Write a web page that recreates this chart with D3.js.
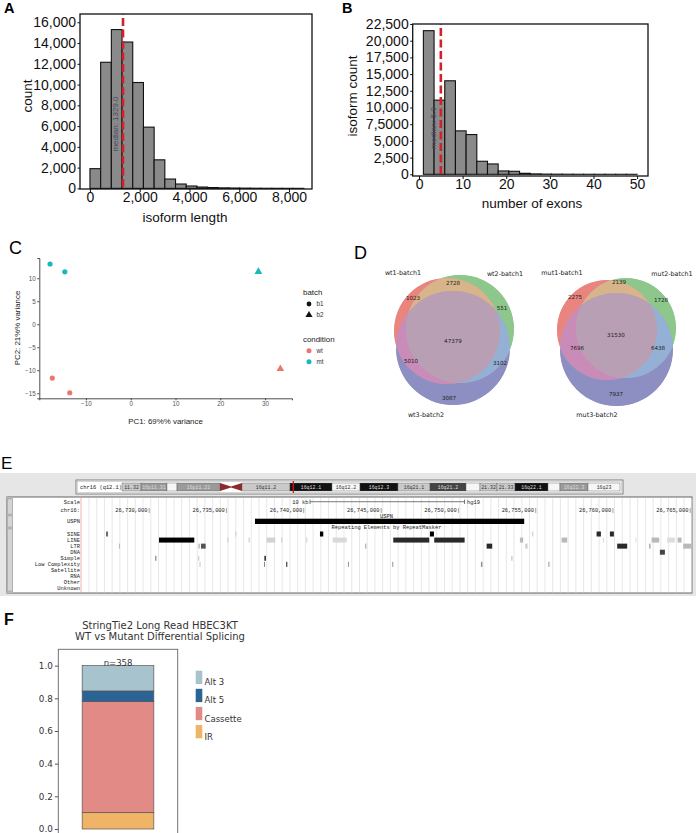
<!DOCTYPE html>
<html><head><meta charset="utf-8">
<script src="https://cdn.jsdelivr.net/npm/d3@7"></script>
<style>body{margin:0;background:#fff}svg{display:block}</style>
</head><body>
<svg id="fig" width="696" height="833"></svg>
<script>
// ---------------- DATA ----------------
// Panel A: isoform length histogram
const lengthBinStarts = [0,430,860,1290,1720,2150,2580,3010,3440,3870,4300,4730,5160,5590,6020,6450,6880,7310,7740,8170];
const lengthBinWidth = 430;
const lengthCounts = [1900,12150,15300,14100,10200,5900,2750,900,420,230,130,80,50,35,25,15,10,8,5,3];
const lengthTicks = [0,2000,4000,6000,8000];
const lengthCountTicks = [0,2000,4000,6000,8000,10000,12000,14000,16000];
const lengthMedian = 1329.0;

// Panel B: exon number histogram
const exonBinStarts = [1,3.45,5.9,8.35,10.8,13.25,15.7,18.15,20.6,23.05,25.5,27.95,30.4,32.85,35.3,37.75,40.2,42.65,45.1,47.55];
const exonBinWidth = 2.45;
const exonCounts = [21500,11100,14000,6500,5950,1950,1550,500,450,150,60,30,20,12,8,5,3,2,2,1];
const exonTicks = [0,10,20,30,40,50];
const exonCountTicks = [0,2500,5000,7500,10000,12500,15000,17500,20000,22500];
const exonCountTickLabels = ["0","2,500","5,000","7,5000","10,000","12,500","15,000","17,500","20,000","22,500"];
const exonMedian = 5.0;

// Panel C: PCA
const pcaSample = ["wt_b1_1","wt_b1_2","wt_b2","mt_b1_1","mt_b1_2","mt_b2"];
const pcaPC1 = [-17.5,-13.6,33.4,-18.0,-14.7,28.5];
const pcaPC2 = [-11.7,-14.9,-9.7,13.1,11.4,11.4];
const pcaBatch = ["b1","b1","b2","b1","b1","b2"];
const pcaCondition = ["wt","wt","wt","mt","mt","mt"];
const pcaXTicks = [-10,0,10,20,30];
const pcaYTicks = [-15,-10,-5,0,5,10];

// Panel D: Venn region counts  (order: 100,010,110,001,101,011,111)
const vennRegionCodes = ["100","010","110","001","101","011","111"];
const wtVennCounts = [1023,551,2728,3087,5010,3102,47379];
const mutVennCounts = [2275,1728,2139,7937,7696,6438,31530];
const wtVennNames = ["wt1-batch1","wt2-batch1","wt3-batch2"];
const mutVennNames = ["mut1-batch1","mut2-batch1","mut3-batch2"];

// Panel E: genome browser
const posTicks = [26730000,26735000,26740000,26745000,26750000,26755000,26760000,26765000];
const geneName = ["USPN"];
const geneStart = [26736740];
const geneEnd = [26754158];
const repeatClasses = ["SINE","LINE","LTR","DNA","Simple","Low Complexity","Satellite","RNA","Other","Unknown"];
const repeatClass = [
 "SINE","SINE","SINE","SINE","SINE","SINE","SINE",
 "LINE","LINE","LINE","LINE","LINE","LINE","LINE","LINE","LINE","LINE","LINE","LINE","LINE","LINE","LINE","LINE",
 "LTR","LTR","LTR","LTR","LTR","LTR","LTR","LTR","LTR",
 "DNA",
 "Simple","Simple","Simple","Simple",
 "Low Complexity","Low Complexity","Low Complexity","Low Complexity","Low Complexity","Low Complexity","Low Complexity"];
const repeatStart = [
 26727102,26735465,26740944,26748059,26754656,26758841,26759701,
 26730530,26734929,26736319,26737496,26738421,26740038,26741765,26745685,26748337,26753880,26756577,26759248,26761350,26762398,26763407,26764080,
 26727943,26733072,26733247,26743874,26751726,26754223,26760173,26762256,26764442,
 26762935,
 26730291,26733072,26737354,26753330,
 26733150,26737322,26738764,26742755,26745620,26751357,26755723];
const repeatEnd = [
 26727232,26735543,26741157,26748317,26754753,26759119,26759960,
 26732814,26735026,26736416,26738053,26738518,26740135,26742671,26748013,26750303,26754093,26756939,26759313,26761415,26762890,26763905,26764339,
 26728008,26733182,26733551,26743939,26752088,26754378,26760820,26762321,26764985,
 26763259,
 26730356,26733137,26737438,26753395,
 26733215,26737387,26738829,26742820,26745685,26751454,26755788];
const repeatScore = [
 0.6,0.18,1.0,1.0,0.15,0.85,0.85,
 1.0,0.15,0.15,0.18,0.15,0.12,0.15,0.85,0.85,0.3,0.3,0.15,0.1,0.3,0.12,0.3,
 0.3,0.25,0.7,0.4,0.85,0.2,0.85,0.5,0.3,
 0.75,
 0.6,0.25,1.0,0.3,
 0.25,0.5,0.9,0.45,0.45,0.45,0.45];
// ideogram bands (Mb)
const bandStart = [0,3.45,8.16,9.98,17.78,19.77,21.77,30.48,38.1,43.18,50.07,55.88,62.41,64.95,68.03,71.3,77.29,79.46,84.54];
const bandEnd   = [3.45,8.16,9.98,17.78,19.77,21.77,30.48,38.1,43.18,50.07,55.88,62.41,64.95,68.03,71.3,77.29,79.46,84.54,90.35];
const bandName  = ["11.32","16p11.31","","16p11.21","","","16q11.2","16q12.1","16q12.2","16q12.3","16q21.1","16q21.2","","21.32","21.33","16q22.1","","16q22.3","16q23"];
const bandStain = ["gpos25","gpos50","gneg","gpos50","acenP","acenQ","gpos25","gpos100","gneg","gpos100","gpos25","gpos75","gneg","gpos25","gpos25","gpos100","gneg","gpos50","gneg"];
const ideoMarker = [31.08];

// Panel F: splicing event proportions
const spliceTypes = ["IR","Cassette","Alt 5","Alt 3"];
const spliceProportions = [0.10,0.68,0.065,0.155];
const spliceN = 358;
const spliceTicks = [0,0.2,0.4,0.6,0.8,1.0];

// ---------------- DRAWING ----------------
const svg = d3.select("#fig");
const SANS = "'Liberation Sans', Arial, Helvetica, sans-serif";
const DV = "'DejaVu Sans', sans-serif";
const MONO = "'Liberation Mono','DejaVu Sans Mono', monospace";

function plabel(t,x,y,size,weight){
  svg.append("text").attr("x",x).attr("y",y).text(t).attr("font-family",SANS)
   .attr("font-size",size).attr("font-weight",weight).attr("fill","#000");
}
plabel("A",4,13,14.5,"bold");
plabel("B",342,13,14.5,"bold");
plabel("C",9,253.5,18,"normal");
plabel("D",354,258.5,18,"normal");
plabel("E",1,468.5,17,"normal");
plabel("F",4,625,16,"bold");

function histPanel(o){
  const g = svg.append("g");
  const x = d3.scaleLinear().domain(o.xdom).range(o.xr);
  const y = d3.scaleLinear().domain(o.ydom).range(o.yr);
  g.selectAll("rect.bar").data(o.counts).join("rect")
    .attr("x",(d,i)=>x(o.starts[i])).attr("width",(d,i)=>x(o.starts[i]+o.bw)-x(o.starts[i]))
    .attr("y",d=>y(d)).attr("height",d=>y(0)-y(d))
    .attr("fill","#8a8a8a").attr("stroke","#111").attr("stroke-width",1.1);
  // median line
  g.append("line").attr("x1",x(o.median)).attr("x2",x(o.median))
    .attr("y1",o.yr[1]).attr("y2",o.yr[0]).attr("stroke","#d3202a")
    .attr("stroke-width",2.6).attr("stroke-dasharray","8,3.5").attr("stroke-dashoffset",-4);
  g.append("text").attr("transform",`translate(${x(o.median)-5},${o.medY}) rotate(-90)`)
    .attr("text-anchor","middle").attr("font-family",SANS).attr("font-size",8)
    .attr("fill","#4a4a5e").text(o.medText);
  // frame
  g.append("rect").attr("x",o.xr[0]).attr("y",o.yr[1]).attr("width",o.xr[1]-o.xr[0])
    .attr("height",o.yr[0]-o.yr[1]).attr("fill","none").attr("stroke","#111").attr("stroke-width",1.3);
  const ya = g.append("g").attr("transform",`translate(${o.xr[0]},0)`)
    .call(d3.axisLeft(y).tickValues(o.yticks).tickFormat(o.yfmt).tickSize(2.5).tickPadding(1.5));
  const xa = g.append("g").attr("transform",`translate(0,${o.yr[0]})`)
    .call(d3.axisBottom(x).tickValues(o.xticks).tickFormat(d3.format(",")).tickSize(3).tickPadding(0));
  [ya,xa].forEach(a=>{ a.select(".domain").remove();
    a.selectAll("text").attr("font-family",SANS).attr("font-size",14).attr("fill","#111");
    a.selectAll("line").attr("stroke","#111"); });
  g.append("text").attr("x",o.xlab[0]).attr("y",o.xlab[1]).attr("text-anchor","middle")
    .attr("font-family",SANS).attr("font-size",13.5).attr("fill","#111").text(o.xtitle);
  g.append("text").attr("transform",`translate(${o.ylab[0]},${o.ylab[1]}) rotate(-90)`).attr("text-anchor","middle")
    .attr("font-family",SANS).attr("font-size",13.5).attr("fill","#111").text(o.ytitle);
}
histPanel({xdom:[-400,8925],xr:[80,312],ydom:[-60,16800],yr:[189,14],
  starts:lengthBinStarts,bw:lengthBinWidth,counts:lengthCounts,median:lengthMedian,
  medText:"median: 1329.0",medY:124,yticks:lengthCountTicks,yfmt:d3.format(","),xticks:lengthTicks,
  xtitle:"isoform length",ytitle:"count",xlab:[185,222],ylab:[32,96]});
histPanel({xdom:[-1.45,52.5],xr:[412.7,648],ydom:[-255,22500],yr:[176,24],
  starts:exonBinStarts,bw:exonBinWidth,counts:exonCounts,median:exonMedian,
  medText:"median: 5.0",medY:128,yticks:exonCountTicks,yfmt:(d,i)=>exonCountTickLabels[i],xticks:exonTicks,
  xtitle:"number of exons",ytitle:"isoform count",xlab:[532,208],ylab:[357,96]});

// ---- Panel C ----
{
  const g = svg.append("g");
  const x = d3.scaleLinear().domain([-20.4,36]).range([39.3,292]);
  const y = d3.scaleLinear().domain([-16.1,14.4]).range([398.3,258]);
  const col = d3.scaleOrdinal().domain(["wt","mt"]).range(["#ea766e","#17b9bb"]);
  const sh = d3.scaleOrdinal().domain(["b1","b2"]).range([d3.symbolCircle,d3.symbolTriangle]);
  const xa = g.append("g").attr("transform","translate(0,398.3)").call(d3.axisBottom(x).tickValues(pcaXTicks).tickSize(2).tickPadding(1.5));
  const ya = g.append("g").attr("transform","translate(39.3,0)").call(d3.axisLeft(y).tickValues(pcaYTicks).tickSize(2).tickPadding(1.5));
  [xa,ya].forEach(a=>{a.select(".domain").attr("stroke","#222").attr("stroke-width",0.8);
    a.selectAll("line").attr("stroke","#444");
    a.selectAll("text").attr("font-family",SANS).attr("font-size",6.3).attr("fill","#555");});
  g.selectAll("path.pt").data(pcaSample).join("path")
    .attr("transform",(d,i)=>`translate(${x(pcaPC1[i])},${y(pcaPC2[i])})`)
    .attr("d",(d,i)=>d3.symbol().type(sh(pcaBatch[i])).size(pcaBatch[i]==="b1"?21:26)())
    .attr("fill",(d,i)=>col(pcaCondition[i]));
  g.append("text").attr("x",165.5).attr("y",424).attr("text-anchor","middle").attr("font-family",SANS)
    .attr("font-size",7.9).attr("fill","#222").text("PC1: 69%% variance");
  g.append("text").attr("transform","translate(20,328) rotate(-90)").attr("text-anchor","middle").attr("font-family",SANS)
    .attr("font-size",7.9).attr("fill","#222").text("PC2: 21%% variance");
  // legend
  const L = g.append("g").attr("font-family",SANS);
  L.append("text").attr("x",303).attr("y",295).attr("font-size",7.9).attr("fill","#222").text("batch");
  ["b1","b2"].forEach((b,i)=>{
    L.append("path").attr("transform",`translate(309,${304+i*11})`).attr("d",d3.symbol().type(sh(b)).size(b==="b1"?18:22)()).attr("fill","#111");
    L.append("text").attr("x",316.5).attr("y",306.3+i*11).attr("font-size",6.3).attr("fill","#333").text(b);
  });
  L.append("text").attr("x",303).attr("y",342).attr("font-size",7.9).attr("fill","#222").text("condition");
  ["wt","mt"].forEach((c,i)=>{
    L.append("path").attr("transform",`translate(309,${350.7+i*11})`).attr("d",d3.symbol().type(d3.symbolCircle).size(20)()).attr("fill",col(c));
    L.append("text").attr("x",316.5).attr("y",353+i*11).attr("font-size",6.3).attr("fill","#333").text(c);
  });
}

// ---- Panel D ----
const vennColors = {"100":"#e9847f","010":"#8dc78b","110":"#d8b48b","001":"#8d8ec1","101":"#c98cb8","011":"#94b1d5","111":"#b99fb3"};
const defs = svg.append("defs");
function venn(prefix, circles, counts, labelXY, names, namePos){
  circles.forEach((c,i)=>{
    defs.append("clipPath").attr("id",prefix+"c"+i).append("circle").attr("cx",c.cx).attr("cy",c.cy).attr("r",c.r);
    const m = defs.append("mask").attr("id",prefix+"m"+i).attr("maskUnits","userSpaceOnUse")
      .attr("x",0).attr("y",0).attr("width",696).attr("height",833);
    m.append("rect").attr("width",696).attr("height",833).attr("fill","#fff");
    m.append("circle").attr("cx",c.cx).attr("cy",c.cy).attr("r",c.r).attr("fill","#000");
  });
  const g = svg.append("g");
  g.selectAll("circle.under").data(circles).join("circle").attr("cx",c=>c.cx).attr("cy",c=>c.cy).attr("r",c=>c.r-0.3)
    .attr("fill",vennColors["111"]);
  vennRegionCodes.forEach(code=>{
    let inner = g.append("g");
    code.split("").forEach((b,i)=>{ if(b==="1") inner = inner.append("g").attr("clip-path",`url(#${prefix}c${i})`); });
    code.split("").forEach((b,i)=>{ if(b==="0") inner = inner.append("g").attr("mask",`url(#${prefix}m${i})`); });
    inner.append("rect").attr("x",340).attr("y",250).attr("width",356).attr("height",170).attr("fill",vennColors[code]);
  });
  g.selectAll("text.cnt").data(counts).join("text").attr("x",(d,i)=>labelXY[i][0]).attr("y",(d,i)=>labelXY[i][1]+2)
    .attr("text-anchor","middle").attr("font-family",DV).attr("font-size",5.6).attr("fill","#222").text(d=>d);
  g.selectAll("text.nm").data(names).join("text").attr("x",(d,i)=>namePos[i][0]).attr("y",(d,i)=>namePos[i][1]+2.2)
    .attr("text-anchor","middle").attr("font-family",DV).attr("font-size",6.4).attr("fill","#222").text(d=>d);
}
venn("wt",[{cx:447,cy:331,r:53},{cx:460,cy:329,r:54},{cx:453,cy:348,r:57}], wtVennCounts,
  [[413,298],[502,308],[453,283],[449,398],[411,361],[500,363],[453,341]], wtVennNames,
  [[403,273],[505,274],[426,415]]);
venn("mut",[{cx:607,cy:330,r:50},{cx:626,cy:328,r:50},{cx:616.5,cy:349.5,r:56.5}], mutVennCounts,
  [[575,297],[661,300],[619,282],[616,394],[577,348],[658,348],[616,335]], mutVennNames,
  [[562,273],[672,274],[597,415]]);

// ---- Panel E ----
{
  const g = svg.append("g");
  g.append("rect").attr("x",0).attr("y",473).attr("width",696).attr("height",123).attr("fill","#e6e6e6");
  // ideogram box
  g.append("rect").attr("x",76).attr("y",480).attr("width",547).attr("height",14).attr("fill","#fff").attr("stroke","#666").attr("stroke-width",0.8);
  g.append("rect").attr("x",77.5).attr("y",481.5).attr("width",544).attr("height",11).attr("fill","none").attr("stroke","#bbb").attr("stroke-width",0.6);
  g.append("text").attr("x",80).attr("y",489.3).attr("font-family",MONO).attr("font-size",5.4).attr("fill","#222").text("chr16 (q12.1)");
  const xi = d3.scaleLinear().domain([0,90.35]).range([122,620]);
  const stainFill = {gneg:"#f6f6f6",gpos25:"#c9c9c9",gpos50:"#9a9a9a",gpos75:"#444",gpos100:"#111"};
  const stainText = {gneg:"#333",gpos25:"#333",gpos50:"#ddd",gpos75:"#ddd",gpos100:"#ddd"};
  bandStart.forEach((s,i)=>{
    const st = bandStain[i];
    if (st==="acenP"){
      g.append("path").attr("d",`M${xi(s)},483 L${xi(bandEnd[i])},486.5 L${xi(bandEnd[i])},487.5 L${xi(s)},491 Z`).attr("fill","#8e2a2a");
    } else if (st==="acenQ"){
      g.append("path").attr("d",`M${xi(s)},486.5 L${xi(bandEnd[i])},483 L${xi(bandEnd[i])},491 L${xi(s)},487.5 Z`).attr("fill","#8e2a2a");
    } else {
      g.append("rect").attr("x",xi(s)).attr("y",483).attr("width",xi(bandEnd[i])-xi(s)).attr("height",8)
        .attr("fill",stainFill[st]).attr("stroke","#555").attr("stroke-width",0.4);
      if (bandName[i]) g.append("text").attr("x",(xi(s)+xi(bandEnd[i]))/2).attr("y",489)
        .attr("text-anchor","middle").attr("font-family",MONO).attr("font-size",4.9).attr("fill",stainText[st]).text(bandName[i]);
    }
  });
  g.selectAll("line.mk").data(ideoMarker).join("line").attr("x1",d=>xi(d)).attr("x2",d=>xi(d))
    .attr("y1",481).attr("y2",493).attr("stroke","#e01010").attr("stroke-width",1.3);

  // track box
  g.append("rect").attr("x",7).attr("y",497).attr("width",685).attr("height",96).attr("fill","#fff").attr("stroke","#555").attr("stroke-width",0.9);
  g.append("rect").attr("x",7).attr("y",497).attr("width",6).attr("height",96).attr("fill","#b8b8b8");
  [[499,514],[516,527],[529,591]].forEach(b=>g.append("rect").attr("x",7.8).attr("y",b[0]).attr("width",4.5).attr("height",b[1]-b[0]).attr("fill","#d4d4d4").attr("stroke","#999").attr("stroke-width",0.4));
  const x = d3.scaleLinear().domain([26730000,26765000]).range([150.8,691.8]);
  // guidelines every 500 bp
  const guides = d3.range(Math.ceil(x.invert(82)/500)*500, x.invert(692), 500);
  g.selectAll("line.gd").data(guides).join("line").attr("x1",d=>x(d)).attr("x2",d=>x(d))
    .attr("y1",498).attr("y2",592.5).attr("stroke","#dcdcdc").attr("stroke-width",0.7);
  g.append("line").attr("x1",81).attr("x2",81).attr("y1",497.5).attr("y2",592.5).attr("stroke","#f2a0a0").attr("stroke-width",0.8);
  const labRows = [["Scale",502.3],["chr16:",510.3],["USPN",521]];
  const repY0 = 534, repDy = 6.07;
  repeatClasses.forEach((c,i)=>labRows.push([c, repY0+i*repDy]));
  g.selectAll("text.lab").data(labRows).join("text").attr("x",80).attr("y",d=>d[1]+1.8).attr("text-anchor","end")
    .attr("font-family",MONO).attr("font-size",5.4).attr("fill","#222").text(d=>d[0]);
  // scale bar
  const sb0 = 26740300, sb1 = sb0+10000;
  g.append("path").attr("d",`M${x(sb0)},499.5 V504 M${x(sb0)},501.7 H${x(sb1)} M${x(sb1)},499.5 V504`).attr("stroke","#222").attr("stroke-width",0.6).attr("fill","none");
  g.append("text").attr("x",x(sb0)-1.5).attr("y",504).attr("text-anchor","end").attr("font-family",MONO).attr("font-size",5.4).attr("fill","#222").text("10 kb");
  g.append("text").attr("x",x(sb1)+2.5).attr("y",504).attr("font-family",MONO).attr("font-size",5.4).attr("fill","#222").text("hg19");
  // position ticks
  g.selectAll("text.pt").data(posTicks).join("text").attr("x",d=>x(d)).attr("y",512.2).attr("text-anchor","end")
    .attr("font-family",MONO).attr("font-size",5.4).attr("fill","#222").text(d=>d3.format(",")(d)+"|");
  // gene
  g.append("text").attr("x",386.5).attr("y",517.5).attr("text-anchor","middle").attr("font-family",MONO).attr("font-size",5.4).attr("fill","#222").text(geneName[0]);
  g.selectAll("rect.gene").data(geneStart).join("rect").attr("x",d=>x(d)).attr("width",(d,i)=>x(geneEnd[i])-x(d))
    .attr("y",518.7).attr("height",5.3).attr("fill","#000");
  g.append("text").attr("x",386.5).attr("y",529).attr("text-anchor","middle").attr("font-family",MONO).attr("font-size",5.4).attr("fill","#222").text("Repeating Elements by RepeatMasker");
  // repeats
  const cy = d3.scaleOrdinal().domain(repeatClasses).range(repeatClasses.map((c,i)=>repY0+i*repDy));
  g.selectAll("rect.rep").data(repeatStart).join("rect")
    .attr("x",d=>x(d)).attr("width",(d,i)=>Math.max(1,x(repeatEnd[i])-x(d)))
    .attr("y",(d,i)=>cy(repeatClass[i])-2.5).attr("height",5)
    .attr("fill",(d,i)=>d3.interpolateGreys(0.12+repeatScore[i]*0.88));
}

// ---- Panel F ----
{
  const g = svg.append("g");
  const y = d3.scaleLinear().domain([0,1.1]).range([829,649.3]);
  const xb = d3.scaleBand().domain(["all"]).range([58.3,177.7]).padding(0.25);
  const cum = d3.cumsum(spliceProportions);
  const colF = d3.scaleOrdinal().domain(spliceTypes).range(["#f0b466","#e28b86","#2a6394","#a7c3cd"]);
  g.append("text").attr("x",160).attr("y",629).attr("text-anchor","middle").attr("font-family",DV).attr("font-size",10).attr("fill","#333").text("StringTie2 Long Read HBEC3KT");
  g.append("text").attr("x",160).attr("y",639.5).attr("text-anchor","middle").attr("font-family",DV).attr("font-size",10).attr("fill","#333").text("WT vs Mutant Differential Splicing");
  g.append("rect").attr("x",58.3).attr("y",649.3).attr("width",119.4).attr("height",200).attr("fill","none").attr("stroke","#666").attr("stroke-width",0.9);
  g.selectAll("rect.seg").data(spliceTypes).join("rect")
    .attr("x",xb("all")).attr("width",xb.bandwidth())
    .attr("y",(d,i)=>y(cum[i])).attr("height",(d,i)=>y(cum[i]-spliceProportions[i])-y(cum[i]))
    .attr("fill",d=>colF(d)).attr("stroke","#555").attr("stroke-width",0.7);
  const ya = g.append("g").attr("transform","translate(58.3,0)").call(d3.axisLeft(y).tickValues(spliceTicks).tickFormat(d3.format(".1f")).tickSize(3.5).tickPadding(2));
  ya.select(".domain").remove();
  ya.selectAll("line").attr("stroke","#555");
  ya.selectAll("text").attr("font-family",DV).attr("font-size",8.8).attr("fill","#333");
  g.append("text").attr("x",xb("all")+xb.bandwidth()/2).attr("y",y(1)+0.5).attr("text-anchor","middle").attr("font-family",DV).attr("font-size",8.5).attr("fill","#333").text("n="+spliceN);
  const legOrder = spliceTypes.slice().reverse();
  legOrder.forEach((t,i)=>{
    const y0 = 670.7 + i*18.1;
    g.append("rect").attr("x",195.7).attr("y",y0).attr("width",6.6).attr("height",13.3).attr("fill",colF(t));
    g.append("text").attr("x",204.5).attr("y",y0+14.6).attr("font-family",DV).attr("font-size",8.5).attr("fill","#333").text(t);
  });
}
</script>
</body></html>
